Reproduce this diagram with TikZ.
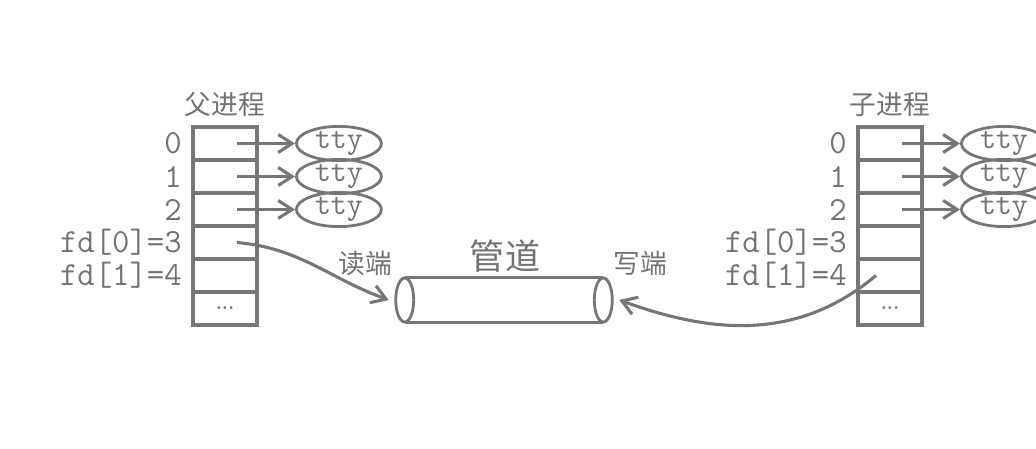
\documentclass[tikz,border=0pt]{standalone}
\usepackage{fontspec}
\newfontfamily\cjk{Noto Sans CJK SC}
\usetikzlibrary{arrows.meta,positioning,shapes.geometric}
\definecolor{lnc}{RGB}{118,118,118}
\definecolor{txc}{RGB}{115,115,115}
\tikzset{
  cell/.style={draw=lnc, line width=2.3pt, minimum width=1.6cm, minimum height=0.825cm, inner sep=0pt, outer sep=0pt},
  fdl/.style={font=\ttfamily\fontsize{24}{24}\selectfont, text=txc, inner sep=0pt, anchor=east},
  tty/.style={ellipse, draw=lnc, line width=2pt, minimum width=2.125cm, minimum height=0.75cm, inner sep=0pt, font=\ttfamily\fontsize{22}{22}\selectfont, text=txc},
  cn/.style={font=\cjk\fontsize{19}{19}\selectfont, text=txc, inner sep=0pt},
  arr/.style={-{Straight Barb[length=3.5mm,width=4.5mm]}, draw=lnc, line width=2.2pt},
}
\begin{document}
\begin{tikzpicture}
\useasboundingbox (0,0) rectangle (25.9,-11.2);
% parent process fd table
\node[cell] (p0) at (5.625,-3.5875) {};
\node[cell, below=0pt of p0] (p1) {};
\node[cell, below=0pt of p1] (p2) {};
\node[cell, below=0pt of p2] (p3) {};
\node[cell, below=0pt of p3] (p4) {};
\node[cell, below=0pt of p4, font=\bfseries\fontsize{14}{14}\selectfont, text=txc] (p5) {...};
\node[cn, above=0.25cm of p0] (pn) {父进程};
% child process fd table
\node[cell] (c0) at (22.25,-3.5875) {};
\node[cell, below=0pt of c0] (c1) {};
\node[cell, below=0pt of c1] (c2) {};
\node[cell, below=0pt of c2] (c3) {};
\node[cell, below=0pt of c3] (c4) {};
\node[cell, below=0pt of c4, font=\bfseries\fontsize{14}{14}\selectfont, text=txc] (c5) {...};
\node[cn, above=0.25cm of c0] (cn) {子进程};
% fd numbers
\foreach \s in {p,c} {
  \node[fdl] (\s l0) at ([xshift=-0.275cm]\s0.west) {0};
  \node[fdl] (\s l1) at ([xshift=-0.275cm]\s1.west) {1};
  \node[fdl] (\s l2) at ([xshift=-0.275cm]\s2.west) {2};
  \node[fdl] (\s l3) at ([xshift=-0.275cm]\s3.west) {fd[0]=3};
  \node[fdl] (\s l4) at ([xshift=-0.275cm]\s4.west) {fd[1]=4};
}
% terminals
\foreach \s in {p,c}
  \foreach \i in {0,1,2} {
    \node[tty, right=0.95cm of \s\i] (\s t\i) {tty};
    \draw[arr] ([xshift=0.3cm]\s\i.center) -- (\s t\i);
  }
% pipe
\node[minimum width=4.95cm, minimum height=1.1cm, inner sep=0pt] (pipe) at (12.6,-7.5) {};
\draw[lnc, line width=2.3pt] (pipe.north west) -- (pipe.north east) (pipe.south west) -- (pipe.south east);
\draw[lnc, line width=2pt, fill=white] (pipe.west) ellipse [x radius=0.225cm, y radius=0.55cm];
\draw[lnc, line width=2pt, fill=white] (pipe.east) ellipse [x radius=0.225cm, y radius=0.55cm];
\node[cn, font=\cjk\fontsize{25}{25}\selectfont] (pl) at (12.625,-6.4) {管道};
\node[cn] (rd) at (9.125,-6.575) {读端};
\node[cn] (wr) at (16,-6.575) {写端};
\draw[arr] ([xshift=0.3cm]p3.center) to[out=-5, in=160] ([xshift=-0.4cm]pipe.west);
\draw[arr] ([xshift=-0.35cm]c4.center) to[out=220, in=-20] ([xshift=0.4cm]pipe.east);
\end{tikzpicture}
\end{document}
